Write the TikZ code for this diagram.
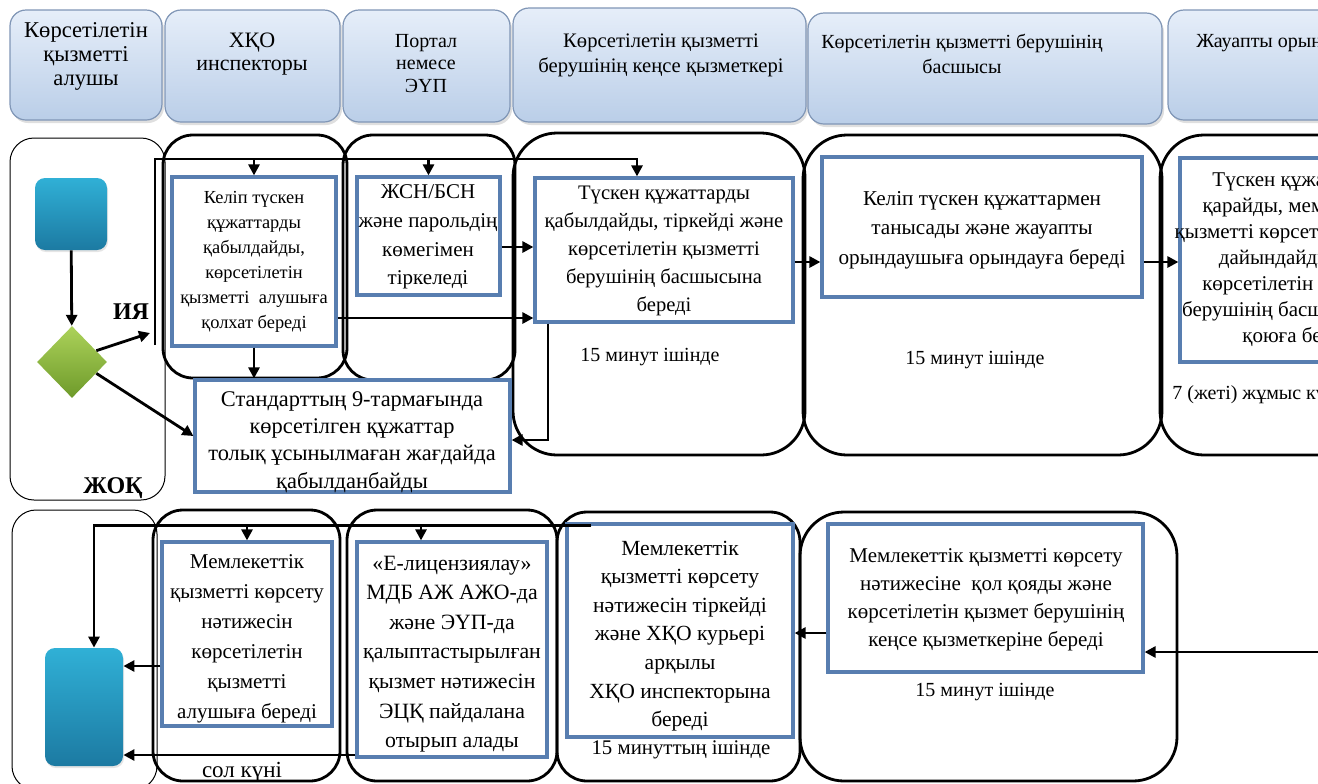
\documentclass[tikz,border=0pt]{standalone}
\usepackage{fontspec}
\setmainfont{Liberation Serif}
\usetikzlibrary{arrows.meta,fit,shadows,shapes.geometric,calc}

\definecolor{hdrtop}{RGB}{230,238,249}
\definecolor{hdrbot}{RGB}{186,206,232}
\definecolor{hdrline}{RGB}{128,150,182}
\definecolor{boxblue}{RGB}{88,126,176}
\definecolor{tealtop}{RGB}{48,176,214}
\definecolor{tealbot}{RGB}{28,122,162}
\definecolor{greentop}{RGB}{172,210,90}
\definecolor{greenbot}{RGB}{110,154,42}

\begin{document}
\begin{tikzpicture}[x=0.5pt,y=-0.5pt,
  hdr/.style={draw=hdrline,line width=0.6pt,rounded corners=8pt,top color=hdrtop,bottom color=hdrbot,
    drop shadow={opacity=0.25,shadow xshift=1pt,shadow yshift=-1.5pt},inner sep=0pt},
  hdrtext/.style={anchor=north,align=center,inner sep=0pt},
  lanethin/.style={draw,line width=0.5pt,rounded corners=12pt,inner sep=0pt},
  lane/.style={draw,line width=1.4pt,rounded corners=15pt,inner sep=0pt},
  bigl/.style={lane,rounded corners=22pt},
  stepbox/.style={draw=boxblue,fill=white,line width=1.6pt,inner sep=0pt},
  steptext/.style={align=center,inner sep=0pt},
  endpt/.style={rounded corners=5pt,top color=tealtop,bottom color=tealbot,inner sep=0pt,
    drop shadow={opacity=0.2,shadow xshift=0.5pt,shadow yshift=-1pt}},
  check/.style={diamond,top color=greentop,bottom color=greenbot,inner sep=0pt,
    minimum width=35pt,minimum height=36pt},
  flow/.style={line width=1.4pt,-{Triangle[length=5.5pt,width=5.5pt]}},
  note/.style={inner sep=0pt,font=\fontsize{10}{12}\selectfont},
  yesno/.style={inner sep=0pt,font=\fontsize{12}{14}\selectfont\bfseries}
]
\useasboundingbox (0,0) rectangle (1318,783);
\clip (0,0) rectangle (1318,783);
\fill[white] (0,0) rectangle (1318,783);

% headers
\node[hdr,fit={(10,10) (162,120)}] (h1) {};
\node[hdr,fit={(165,10) (340,122)}] (h2) {};
\node[hdr,fit={(343,10) (510,122)}] (h3) {};
\node[hdr,fit={(513,8) (806,122)}] (h4) {};
\node[hdr,fit={(808,13) (1162,124)}] (h5) {};
\node[hdr,fit={(1168,10) (1400,120)}] (h6) {};
\node[hdrtext,font=\fontsize{11.3}{12}\selectfont] (h1t) at (86,22) {Көрсетілетін\\қызметті\\алушы};
\node[hdrtext,font=\fontsize{11}{11.5}\selectfont] (h2t) at (252,33) {ХҚО\\инспекторы};
\node[hdrtext,font=\fontsize{10}{11.2}\selectfont] (h3t) at (426,34) {Портал\\немесе\\ЭҮП};
\node[hdrtext,font=\fontsize{10.3}{12.5}\selectfont] (h4t) at (661,33) {Көрсетілетін қызметті\\берушінің кеңсе қызметкері};
\node[hdrtext,font=\fontsize{10}{12.5}\selectfont] (h5t) at (962,34) {Көрсетілетін қызметті берушінің\\басшысы};
\node[hdrtext,anchor=north west,font=\fontsize{10}{12.5}\selectfont] (h6t) at (1196,34) {Жауапты орындаушы};

% lanes
\node[lanethin,fit={(10,138) (165,500)}] (la1) {};
\node[lane,fit={(163,135) (347,378)}] (lb1) {};
\node[lane,fit={(343,135) (515,380)}] (lc1) {};
\node[bigl,fit={(513,133) (805,455)}] (ld1) {};
\node[bigl,fit={(803,135) (1162,455)}] (le1) {};
\node[bigl,fit={(1160,135) (1420,455)}] (lf1) {};
\node[lanethin,fit={(12,510) (157,790)}] (la2) {};
\node[lane,fit={(153,510) (340,781)}] (lb2) {};
\node[lane,fit={(347,510) (557,781)}] (lc2) {};
\node[lane,fit={(557,512) (800,781)}] (ld2) {};
\node[bigl,fit={(800,512) (1177,781)}] (le2) {};

% start, check, end
\node[endpt,fit={(35,178) (107,250)}] (start) {};
\node[check] (dec) at (72,362) {};
\node[endpt,fit={(45,648) (123,766)}] (endn) {};
\node[yesno] (yes) at (131,312) {ИЯ};
\node[yesno] (no) at (113,488) {ЖОҚ};

% steps
\node[stepbox,fit={(172,177) (336,346)}] (xqo) {};
\node[stepbox,fit={(357,177) (500,295)}] (jsn) {};
\node[stepbox,fit={(535,178) (793,322)}] (tus) {};
\node[stepbox,fit={(822,157) (1142,297)}] (kelip) {};
\node[stepbox,fit={(1180,158) (1420,362)}] (fbox) {};
\node[stepbox,fit={(195,380) (510,492)}] (std) {};
\node[stepbox,fit={(162,542) (332,726)}] (give) {};
\node[stepbox,fit={(357,542) (547,757)}] (elic) {};
\node[stepbox,fit={(567,524) (793,737)}] (reg) {};
\node[stepbox,fit={(828,524) (1143,672)}] (sign) {};

\node[steptext,font=\fontsize{9.2}{12.5}\selectfont] (xqo-t) at (254,262)
  {Келіп түскен\\құжаттарды\\қабылдайды,\\көрсетілетін\\қызметті\ \ алушыға\\қолхат береді};
\node[steptext,font=\fontsize{10.5}{14.3}\selectfont] (jsn-t) at (428,237)
  {ЖСН/БСН\\және парольдің\\көмегімен\\тіркеледі};
\node[steptext,font=\fontsize{10.3}{14}\selectfont] (tus-t) at (664,251)
  {Түскен құжаттарды\\қабылдайды, тіркейді және\\көрсетілетін қызметті\\берушінің басшысына\\береді};
\node[steptext,font=\fontsize{10.6}{14.7}\selectfont] (kelip-t) at (982,230)
  {Келіп түскен құжаттармен\\танысады және жауапты\\орындаушыға орындауға береді};
\node[steptext,font=\fontsize{10.5}{13}\selectfont] (fbox-t) at (1300,260)
  {Түскен құжаттарды\\қарайды, мемлекеттік\\қызметті көрсету нәтижесін\\дайындайды және\\көрсетілетін қызметті\\берушінің басшысына қол\\қоюға береді};
\node[steptext,font=\fontsize{11.2}{13.7}\selectfont] (std-t) at (352,442)
  {Стандарттың 9-тармағында\\көрсетілген құжаттар\\толық ұсынылмаған жағдайда\\қабылданбайды};
\node[steptext,font=\fontsize{10.5}{15}\selectfont] (give-t) at (247,639)
  {Мемлекеттік\\қызметті көрсету\\нәтижесін\\көрсетілетін\\қызметті\\алушыға береді};
\node[steptext,font=\fontsize{10.9}{14.8}\selectfont] (elic-t) at (452,654)
  {«Е-лицензиялау»\\МДБ АЖ АЖО-да\\және ЭҮП-да\\қалыптастырылған\\қызмет нәтижесін\\ЭЦҚ пайдалана\\отырып алады};
\node[steptext,font=\fontsize{10.8}{14.3}\selectfont] (reg-t) at (680,636)
  {Мемлекеттік\\қызметті көрсету\\нәтижесін тіркейді\\және ХҚО курьері\\арқылы\\ХҚО инспекторына\\береді};
\node[steptext,font=\fontsize{10.5}{14}\selectfont] (sign-t) at (986,600)
  {Мемлекеттік қызметті көрсету\\нәтижесіне\ \ қол қояды және\\көрсетілетін қызмет берушінің\\кеңсе қызметкеріне береді};

% times
\node[note] (t1) at (650,357) {15 минут ішінде};
\node[note] (t2) at (975,360) {15 минут ішінде};
\node[note,anchor=west] (t3) at (1172,395) {7 (жеті) жұмыс күні ішінде};
\node[note,font=\fontsize{11.5}{13}\selectfont] (t4) at (242,772) {сол күні};
\node[note,font=\fontsize{10.4}{12}\selectfont] (t5) at (681,750) {15 минуттың ішінде};
\node[note] (t6) at (985,692) {15 минут ішінде};

% connectors, top row
\coordinate (yesin) at (150,333);
\coordinate (vbot) at (155,345);
\coordinate (vtop) at (155,159);
\draw[flow] (start) -- (dec);
\draw[flow] (dec.25) -- (yesin);
\draw[flow] (dec.-25) -- (std.west);
\draw[flow] (vbot) |- (637,159) -- (tus.north -| 637,0);
\draw[flow] (xqo.north |- vtop) -- (xqo.north);
\draw[flow] (jsn.north |- vtop) -- (jsn.north);
\draw[flow] (xqo.south) -- (xqo.south |- std.north);
\draw[flow] (jsn.east |- 0,247) -- (tus.west |- 0,247);
\draw[flow] (xqo.east |- 0,318) -- (tus.west |- 0,318);
\draw[flow] (tus.south -| 548,0) |- (std.east |- 0,440);
\draw[flow] (tus.east |- 0,262) -- (kelip.west |- 0,262);
\draw[flow] (kelip.east |- 0,262) -- (fbox.west |- 0,262);

% connectors, bottom row
\coordinate (rin) at (1330,652);
\draw[flow] ($(reg.north west)+(26,3)$) -| (endn.north -| 94,0);
\draw[flow] (give.north |- 0,527) -- (give.north);
\draw[flow] (421,527) -- (elic.north -| 421,0);
\draw[flow] (give.west |- 0,666) -- (endn.east |- 0,666);
\draw[flow] (elic.west |- 0,755) -- (endn.east |- 0,755);
\draw[flow] (sign.west |- 0,633) -- (reg.east |- 0,633);
\draw[flow] (rin) -- (sign.east |- 0,652);
\end{tikzpicture}
\end{document}
